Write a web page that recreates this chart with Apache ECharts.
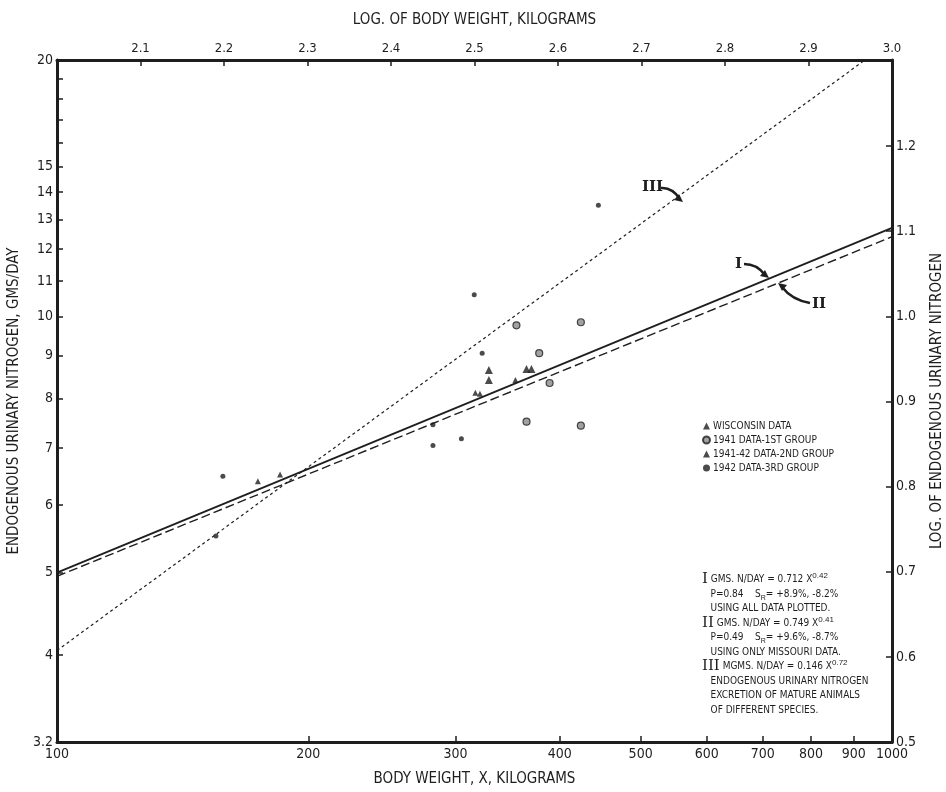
<!DOCTYPE html>
<html>
<head>
<meta charset="utf-8">
<script src="https://cdn.jsdelivr.net/npm/echarts@6/dist/echarts.min.js"></script>
<style>
  html, body { margin: 0; padding: 0; background: #fff; }
  #chart { width: 946px; height: 792px; }
</style>
</head>
<body>
<div id="chart"></div>
<script>
// ticks
var weightTicks = [100, 200, 300, 400, 500, 600, 700, 800, 900, 1000];
var nitrogenTicks = [3.1623, 4, 5, 6, 7, 8, 9, 10, 11, 12, 13, 14, 15, 20];
var nitrogenMinor = [16, 17, 18, 19];
var logNitrogenTicks = [0.5, 0.6, 0.7, 0.8, 0.9, 1.0, 1.1, 1.2, 1.3];

// fitted lines (end points)
var lineX = [100, 1000];
var lineI = [5.0, 12.7];
var lineII = [4.95, 12.4];
var lineIIIX = [100, 928];
var lineIII = [4.05, 20];

// data points
var wisconsinX = [174, 185, 317, 321, 354];
var wisconsinY = [6.40, 6.52, 8.13, 8.11, 8.42];
var group1X = [355, 424, 378, 389, 365, 424];
var group1Y = [9.76, 9.84, 9.05, 8.35, 7.52, 7.44];
var group2X = [329, 329, 365, 370];
var group2Y = [8.65, 8.42, 8.67, 8.67];
var group3X = [158, 155, 282, 282, 305, 323, 445, 316];
var group3Y = [6.49, 5.52, 7.46, 7.05, 7.18, 9.05, 13.5, 10.6];

var FONT = '"DejaVu Sans Condensed", "DejaVu Sans", sans-serif';
var INK = '#1e1e1e';

function pairs(xs, ys) {
    var out = [];
    for (var i = 0; i < xs.length; i++) out.push([xs[i], ys[i]]);
    return out;
}

var axisLine = {show: true, lineStyle: {color: INK, width: 3}};
var tick = {show: true, inside: true, length: 6, lineStyle: {color: INK, width: 1.5}};
var label = {color: INK, fontFamily: FONT, fontSize: 14};
var nameStyle = {color: INK, fontFamily: FONT, fontSize: 15};

var myChart = echarts.init(document.getElementById('chart'));
myChart.setOption({
    backgroundColor: '#fff',
    animation: false,
    grid: {left: 57, right: 54, top: 60, bottom: 50, outerBoundsMode: 'none', containLabel: false},
    legend: {
        orient: 'vertical',
        left: 697, top: 416,
        itemWidth: 7, itemHeight: 7, itemGap: 4,
        textStyle: {color: INK, fontFamily: FONT, fontSize: 10, padding: [0, 0, 0, -2]},
        data: ['WISCONSIN DATA', '1941 DATA-1ST GROUP', '1941-42 DATA-2ND GROUP', '1942 DATA-3RD GROUP']
    },
    xAxis: [
        {
            type: 'log', logBase: 10, min: 100, max: 1000, position: 'bottom',
            name: 'BODY WEIGHT, X, KILOGRAMS', nameLocation: 'middle', nameGap: 30, nameTextStyle: nameStyle,
            axisLine: axisLine,
            axisTick: Object.assign({}, tick, {customValues: weightTicks}),
            minorTick: {show: false},
            axisLabel: Object.assign({}, label, {
                customValues: weightTicks, margin: 5,
                formatter: function (v) { return String(Math.round(v)); }
            }),
            splitLine: {show: false}
        },
        {
            type: 'value', min: 2, max: 3, interval: 0.1, position: 'top',
            name: 'LOG. OF BODY WEIGHT, KILOGRAMS', nameLocation: 'middle', nameGap: 32, nameTextStyle: nameStyle,
            axisLine: axisLine, axisTick: tick,
            axisLabel: Object.assign({}, label, {
                fontSize: 13, margin: 5,
                formatter: function (v) { return v < 2.05 ? '' : v.toFixed(1); }
            }),
            splitLine: {show: false}
        }
    ],
    yAxis: [
        {
            type: 'log', logBase: 10, min: 3.1623, max: 20, position: 'left',
            name: 'ENDOGENOUS URINARY NITROGEN, GMS/DAY', nameLocation: 'middle', nameGap: 32,
            nameRotate: 90, nameTextStyle: nameStyle,
            axisLine: axisLine,
            axisTick: Object.assign({}, tick, {customValues: nitrogenTicks.concat(nitrogenMinor)}),
            minorTick: {show: false},
            axisLabel: Object.assign({}, label, {
                customValues: nitrogenTicks, margin: 4,
                formatter: function (v) { return v < 3.5 ? '3.2' : String(Math.round(v)); }
            }),
            splitLine: {show: false}
        },
        {
            type: 'value', min: 0.5, max: 1.30103, position: 'right',
            name: 'LOG. OF ENDOGENOUS URINARY NITROGEN', nameLocation: 'middle', nameGap: 38,
            nameRotate: 90, nameTextStyle: nameStyle,
            axisLine: axisLine,
            axisTick: Object.assign({}, tick, {customValues: logNitrogenTicks}),
            axisLabel: Object.assign({}, label, {
                customValues: logNitrogenTicks.slice(0, 8), margin: 4,
                formatter: function (v) { return v.toFixed(1); }
            }),
            splitLine: {show: false}
        }
    ],
    series: [
        {
            name: 'I', type: 'line', xAxisIndex: 0, yAxisIndex: 0, symbol: 'none',
            lineStyle: {color: INK, width: 1.8},
            data: pairs(lineX, lineI), z: 3
        },
        {
            name: 'II', type: 'line', xAxisIndex: 0, yAxisIndex: 0, symbol: 'none',
            lineStyle: {color: INK, width: 1.4, type: [9, 4]},
            data: pairs(lineX, lineII), z: 3
        },
        {
            name: 'III', type: 'line', xAxisIndex: 0, yAxisIndex: 0, symbol: 'none',
            lineStyle: {color: INK, width: 1.2, type: [3, 3]},
            data: pairs(lineIIIX, lineIII), z: 3
        },
        {
            name: 'WISCONSIN DATA', type: 'scatter', xAxisIndex: 0, yAxisIndex: 0,
            symbol: 'triangle', symbolSize: 6,
            itemStyle: {color: INK},
            data: pairs(wisconsinX, wisconsinY), z: 4
        },
        {
            name: '1941 DATA-1ST GROUP', type: 'scatter', xAxisIndex: 0, yAxisIndex: 0,
            symbol: 'circle', symbolSize: 7,
            itemStyle: {color: '#8a8a8a', borderColor: INK, borderWidth: 1.2},
            data: pairs(group1X, group1Y), z: 4
        },
        {
            name: '1941-42 DATA-2ND GROUP', type: 'scatter', xAxisIndex: 0, yAxisIndex: 0,
            symbol: 'triangle', symbolSize: 8,
            itemStyle: {color: INK},
            data: pairs(group2X, group2Y), z: 4
        },
        {
            name: '1942 DATA-3RD GROUP', type: 'scatter', xAxisIndex: 0, yAxisIndex: 0,
            symbol: 'circle', symbolSize: 5,
            itemStyle: {color: INK},
            data: pairs(group3X, group3Y), z: 4
        }
    ],
    graphic: [
        // curve labels with arrows
        {type: 'text', left: 642, top: 180, style: {text: 'III', font: 'bold 15px "DejaVu Serif", serif', fill: INK}},
        {type: 'bezierCurve', shape: {x1: 661, y1: 188, x2: 680, y2: 199, cpx1: 672, cpy1: 187}, style: {stroke: INK, lineWidth: 2.5, fill: null}},
        {type: 'polygon', shape: {points: [[683, 202], [674, 200], [679, 194]]}, style: {fill: INK}},
        {type: 'text', left: 735, top: 257, style: {text: 'I', font: 'bold 15px "DejaVu Serif", serif', fill: INK}},
        {type: 'bezierCurve', shape: {x1: 744, y1: 264, x2: 765, y2: 275, cpx1: 757, cpy1: 264}, style: {stroke: INK, lineWidth: 2.5, fill: null}},
        {type: 'polygon', shape: {points: [[769, 278], [760, 276], [765, 270]]}, style: {fill: INK}},
        {type: 'text', left: 812, top: 297, style: {text: 'II', font: 'bold 15px "DejaVu Serif", serif', fill: INK}},
        {type: 'bezierCurve', shape: {x1: 810, y1: 303, x2: 782, y2: 287, cpx1: 792, cpy1: 300}, style: {stroke: INK, lineWidth: 2.5, fill: null}},
        {type: 'polygon', shape: {points: [[778, 283], [787, 285], [782, 291]]}, style: {fill: INK}},
        // equation block
        {
            type: 'text', left: 702, top: 572,
            style: {
                text: [
                    '{r|I} GMS. N/DAY = 0.712 X{sup|0.42}',
                    '   P=0.84    S{sub|R}= +8.9%, -8.2%',
                    '   USING ALL DATA PLOTTED.',
                    '{r|II} GMS. N/DAY = 0.749 X{sup|0.41}',
                    '   P=0.49    S{sub|R}= +9.6%, -8.7%',
                    '   USING ONLY MISSOURI DATA.',
                    '{r|III} MGMS. N/DAY = 0.146 X{sup|0.72}',
                    '   ENDOGENOUS URINARY NITROGEN',
                    '   EXCRETION OF MATURE ANIMALS',
                    '   OF DIFFERENT SPECIES.'
                ].join('\n'),
                fill: INK, font: '10px ' + FONT, lineHeight: 14.5,
                rich: {
                    r: {fontFamily: '"DejaVu Serif", serif', fontSize: 15, lineHeight: 14.5},
                    sup: {fontSize: 8, verticalAlign: 'top', lineHeight: 14.5},
                    sub: {fontSize: 7, verticalAlign: 'bottom', lineHeight: 12}
                }
            }
        }
    ]
});
</script>
</body>
</html>
